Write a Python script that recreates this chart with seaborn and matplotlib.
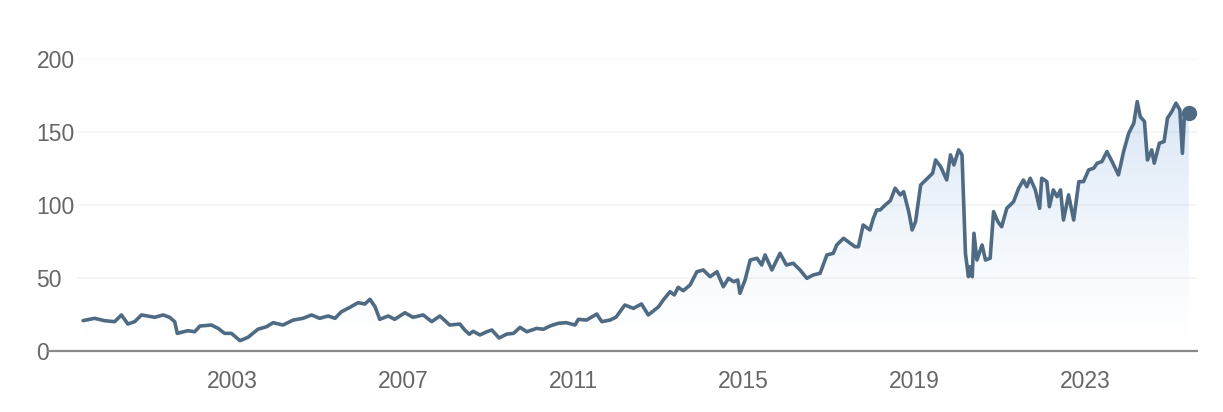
import numpy as np
import pandas as pd
import matplotlib
matplotlib.use("Agg")
import matplotlib.pyplot as plt
import seaborn as sns

# decimal years and closing price
years = [
    1999.50, 1999.77, 2000.00, 2000.24, 2000.40, 2000.55, 2000.71, 2000.87,
    2001.18, 2001.38, 2001.53, 2001.65, 2001.71, 2001.96, 2002.12, 2002.24,
    2002.51, 2002.67, 2002.82, 2002.98, 2003.18, 2003.37, 2003.60, 2003.80,
    2003.96, 2004.19, 2004.43, 2004.66, 2004.86, 2005.05, 2005.25, 2005.41,
    2005.56, 2005.76, 2005.95, 2006.11, 2006.23, 2006.35, 2006.46, 2006.66,
    2006.81, 2007.05, 2007.24, 2007.48, 2007.68, 2007.87, 2008.10, 2008.34,
    2008.45, 2008.56, 2008.65, 2008.81, 2008.97, 2009.09, 2009.26, 2009.44,
    2009.60, 2009.75, 2009.91, 2010.14, 2010.30, 2010.45, 2010.65, 2010.84,
    2011.04, 2011.12, 2011.31, 2011.55, 2011.67, 2011.86, 2012.00, 2012.21,
    2012.41, 2012.60, 2012.76, 2012.90, 2013.00, 2013.11, 2013.27, 2013.37,
    2013.46, 2013.58, 2013.74, 2013.90, 2014.05, 2014.21, 2014.37, 2014.52,
    2014.64, 2014.76, 2014.86, 2014.91, 2015.03, 2015.15, 2015.31, 2015.42,
    2015.50, 2015.66, 2015.85, 2016.00, 2016.16, 2016.32, 2016.48, 2016.63,
    2016.79, 2016.95, 2017.10, 2017.18, 2017.34, 2017.50, 2017.61, 2017.69,
    2017.80, 2017.96, 2018.04, 2018.12, 2018.20, 2018.32, 2018.44, 2018.55,
    2018.67, 2018.75, 2018.87, 2018.95, 2019.03, 2019.15, 2019.31, 2019.43,
    2019.50, 2019.62, 2019.76, 2019.85, 2019.93, 2020.04, 2020.12, 2020.20,
    2020.27, 2020.31, 2020.36, 2020.40, 2020.47, 2020.59, 2020.67, 2020.78,
    2020.86, 2020.96, 2021.05, 2021.17, 2021.33, 2021.45, 2021.56, 2021.64,
    2021.72, 2021.84, 2021.94, 2021.99, 2022.11, 2022.17, 2022.26, 2022.35,
    2022.43, 2022.50, 2022.62, 2022.74, 2022.86, 2022.97, 2023.09, 2023.21,
    2023.29, 2023.40, 2023.52, 2023.64, 2023.79, 2023.91, 2024.03, 2024.15,
    2024.23, 2024.30, 2024.40, 2024.47, 2024.57, 2024.63, 2024.75, 2024.86,
    2024.94, 2025.04, 2025.14, 2025.23, 2025.29, 2025.34, 2025.44,
]
prices = [
    20.8, 22.4, 20.8, 20.1, 24.7, 18.5, 20.1, 24.7,
    23.1, 24.7, 23.1, 20.1, 12.1, 13.9, 13.2, 17.1,
    17.8, 15.5, 12.1, 12.1, 7.1, 9.4, 14.9, 16.6,
    19.4, 17.8, 21.2, 22.4, 24.7, 22.4, 24.0, 22.4,
    26.9, 29.9, 33.1, 32.2, 35.4, 30.3, 21.7, 24.0,
    21.7, 26.2, 23.1, 24.7, 20.1, 24.0, 17.8, 18.5,
    14.5, 11.5, 13.5, 11.0, 13.2, 14.4, 8.9, 11.6,
    12.1, 16.2, 13.2, 15.5, 14.9, 17.1, 19.0, 19.4,
    17.8, 21.7, 21.2, 25.3, 20.1, 21.2, 23.1, 31.5,
    29.2, 32.2, 24.7, 28.0, 30.3, 34.9, 40.6, 38.4,
    43.6, 41.3, 45.2, 54.3, 55.5, 50.9, 54.3, 44.0,
    49.8, 47.5, 48.6, 39.5, 48.6, 62.3, 63.5, 58.9,
    65.8, 55.5, 66.9, 58.9, 60.1, 55.5, 49.8, 52.1,
    53.2, 65.8, 66.9, 72.6, 77.2, 73.8, 71.4, 71.4,
    86.3, 82.9, 90.9, 96.6, 96.6, 100.0, 103.0, 111.5,
    106.9, 109.1, 95.4, 82.9, 88.6, 113.7, 118.3, 121.7,
    130.8, 126.2, 117.1, 134.3, 127.4, 137.7, 134.3, 66.9,
    50.9, 57.7, 50.9, 80.6, 62.3, 72.6, 62.3, 63.5,
    95.4, 88.6, 85.1, 97.7, 102.3, 111.5, 117.1, 112.5,
    118.3, 110.3, 97.7, 118.3, 116.0, 98.8, 110.3, 105.7,
    110.3, 89.7, 106.9, 89.7, 116.0, 116.0, 124.0, 125.2,
    128.6, 129.7, 136.5, 129.7, 120.6, 136.5, 149.1, 156.0,
    170.8, 160.5, 157.1, 130.8, 137.7, 128.6, 142.3, 143.4,
    159.4, 163.9, 169.7, 165.1, 135.4, 162.8, 163.2,
]
y_ticks = [0, 50, 100, 150, 200]
x_ticks = [2003, 2007, 2011, 2015, 2019, 2023]

df = pd.DataFrame({"year": years, "price": prices})

line_color = "#4f6b84"
text_color = "#666666"
axis_color = "#8a8a8a"

sns.set_style("white")
plt.rcParams["font.family"] = ["Liberation Sans", "DejaVu Sans"]

fig = plt.figure(figsize=(12.23, 4.12), dpi=100)
ax = fig.add_axes([0.039, 0.148, 0.94, 0.709])

# vertical gradient under the line, clipped to the area
fill = ax.fill_between(df["year"], df["price"], 0, color="none", lw=0)
top = df["price"].max()
grad = np.zeros((256, 1, 4))
grad[:, 0, 0] = 0.42
grad[:, 0, 1] = 0.62
grad[:, 0, 2] = 0.86
grad[:, 0, 3] = 0.26 * np.linspace(0.0, 1.0, 256) ** 1.4
img = ax.imshow(grad, extent=[df["year"].min(), df["year"].max(), 0, top],
                origin="lower", aspect="auto", zorder=1)
img.set_clip_path(fill.get_paths()[0], transform=ax.transData)

sns.lineplot(data=df, x="year", y="price", color=line_color, lw=2.6, ax=ax, zorder=3)
ax.plot(df["year"].iloc[-1], df["price"].iloc[-1], "o", color=line_color,
        markersize=10, zorder=4)

ax.set_xlim(1998.67, 2025.64)
ax.set_ylim(0, 200)

for v in y_ticks[1:]:
    ax.axhline(v, xmin=0.026, xmax=1.0, color="#f3f3f3", lw=1.2, zorder=0)

ax.set_yticks(y_ticks)
ax.set_xticks(x_ticks)
ax.set_xticklabels([str(t) for t in x_ticks])
ax.tick_params(axis="y", length=0, pad=8, labelsize=16.5, labelcolor=text_color)
for lab in ax.get_yticklabels():
    lab.set_horizontalalignment("left")
ax.tick_params(axis="x", length=8.5, width=1.2, color=axis_color, pad=5,
               labelsize=16.5, labelcolor=text_color, direction="out")

for side in ["top", "right", "left"]:
    ax.spines[side].set_visible(False)
ax.spines["bottom"].set_color(axis_color)
ax.spines["bottom"].set_linewidth(1.6)

ax.set_xlabel("")
ax.set_ylabel("")
ax.grid(False)

fig.savefig("out.png", dpi=100)
plt.close(fig)
